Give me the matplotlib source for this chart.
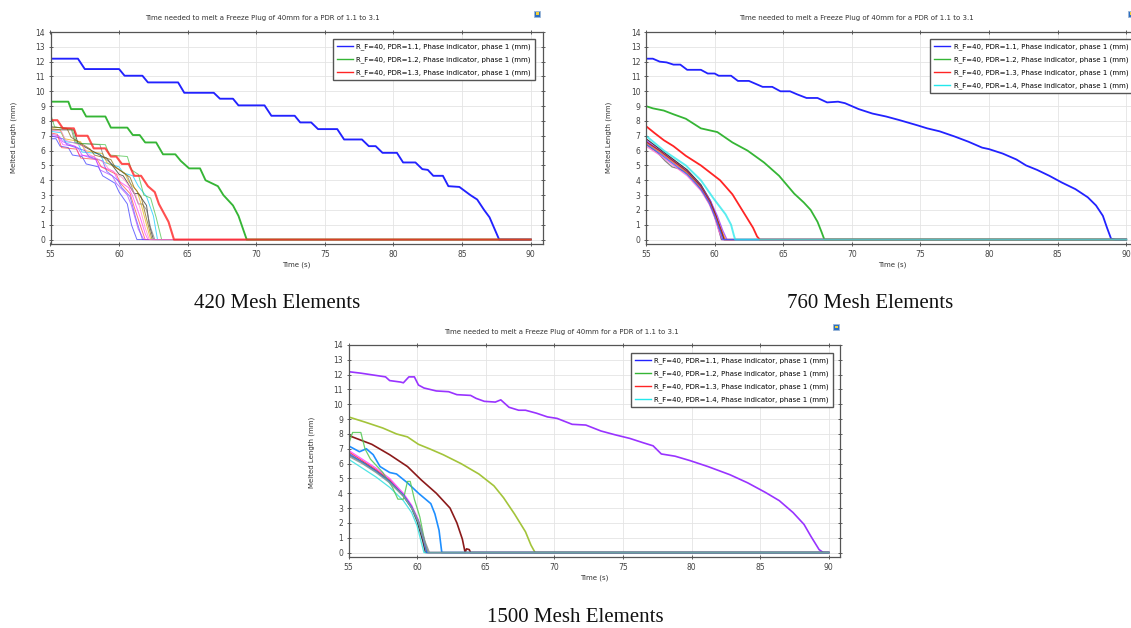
import matplotlib
matplotlib.use('Agg')
import matplotlib.pyplot as plt
from matplotlib.lines import Line2D
from matplotlib.patches import Rectangle

W, H = 1131, 628

title = 'Time needed to melt a Freeze Plug of 40mm for a PDR of 1.1 to 3.1'
legend_labels = ['R_F=40, PDR=1.1, Phase indicator, phase 1 (mm)',
                 'R_F=40, PDR=1.2, Phase indicator, phase 1 (mm)',
                 'R_F=40, PDR=1.3, Phase indicator, phase 1 (mm)',
                 'R_F=40, PDR=1.4, Phase indicator, phase 1 (mm)']
legend_colors = ['#2222ff', '#35b535', '#ff2424', '#22e8ec']
captions = ['420 Mesh Elements', '760 Mesh Elements', '1500 Mesh Elements']
x_ticks = [55, 60, 65, 70, 75, 80, 85, 90]
y_ticks = list(range(0, 15))

# ---- 420 mesh elements (stair-steppy) ----
m420_pdr11_t = [55, 57.0, 57.5, 60.0, 60.4, 61.7, 62.1, 64.3, 64.75, 66.9, 67.35, 68.3, 68.7, 70.6, 71.1,
                72.8, 73.2, 74.0, 74.5, 75.9, 76.4, 77.7, 78.2, 78.7, 79.2, 80.25, 80.7, 81.6, 82.1, 82.5,
                82.9, 83.6, 84.0, 84.8, 85.6, 86.1, 86.6, 87.0, 87.7, 90]
m420_pdr11_y = [12.2, 12.2, 11.5, 11.5, 11.05, 11.05, 10.6, 10.6, 9.9, 9.9, 9.5, 9.5, 9.05, 9.05, 8.35,
                8.35, 7.9, 7.9, 7.45, 7.45, 6.75, 6.75, 6.3, 6.3, 5.85, 5.85, 5.2, 5.2, 4.75, 4.7,
                4.3, 4.3, 3.6, 3.55, 3.0, 2.7, 2.0, 1.5, 0, 0]
m420_pdr12_t = [55, 56.3, 56.5, 57.3, 57.6, 59.0, 59.4, 60.6, 61.0, 61.5, 61.9, 62.7, 63.2, 64.1, 64.5,
                65.1, 65.9, 66.3, 67.2, 67.6, 68.3, 68.7, 69.3, 90]
m420_pdr12_y = [9.3, 9.3, 8.8, 8.8, 8.3, 8.3, 7.55, 7.55, 7.05, 7.05, 6.55, 6.55, 5.75, 5.75, 5.3,
                4.8, 4.8, 4.0, 3.6, 3.0, 2.3, 1.6, 0, 0]
m420_pdr13_t = [55, 55.5, 55.9, 56.7, 56.9, 57.7, 58.15, 59.0, 59.4, 59.8, 60.2, 60.7, 61.1, 61.6, 62.1,
                62.6, 62.9, 63.6, 64.0, 90]
m420_pdr13_y = [8.05, 8.05, 7.5, 7.5, 7.0, 7.0, 6.15, 6.15, 5.6, 5.6, 5.1, 5.1, 4.3, 4.3, 3.6,
                3.2, 2.4, 1.2, 0, 0]
m420_fine_colors = ['#00c8ff', '#ff30ff', '#e8b000', '#202020', '#707070', '#3030ff',
                    '#5050ff', '#40c040', '#ff4040', '#806000', '#b040ff', '#ff80c0']
m420_fine_t = [
    [55, 55.8, 56.1, 57.0, 57.3, 58.6, 58.9, 60.0, 60.3, 61.0, 61.4, 62.0, 62.5, 62.8, 90],
    [55, 55.6, 55.9, 56.8, 57.1, 58.2, 58.5, 59.6, 59.9, 60.7, 61.0, 61.5, 61.9, 62.1, 90],
    [55, 55.7, 56.0, 57.2, 57.5, 58.8, 59.1, 60.4, 60.7, 61.3, 61.6, 62.0, 62.3, 90],
    [55, 56.7, 57.0, 58.8, 59.1, 60.0, 60.3, 61.1, 61.4, 62.0, 62.2, 62.5, 90],
    [55, 56.5, 56.8, 58.6, 58.9, 60.6, 60.9, 61.4, 61.7, 62.0, 62.3, 62.6, 90],
    [55, 55.4, 55.7, 56.3, 56.6, 57.3, 57.6, 58.5, 58.8, 59.7, 60.0, 60.6, 60.9, 61.3, 90],
    [55, 55.9, 56.2, 57.5, 57.8, 58.8, 59.1, 59.9, 60.2, 60.8, 61.2, 61.7, 90],
    [55, 55.3, 56.6, 56.9, 59.0, 59.3, 60.6, 60.9, 61.4, 61.8, 62.3, 62.7, 63.1, 90],
    [55, 55.5, 55.8, 56.9, 57.2, 58.4, 58.7, 59.8, 60.1, 60.8, 61.1, 61.6, 61.9, 90],
    [55, 56.2, 56.5, 57.9, 58.2, 59.4, 59.7, 60.8, 61.1, 61.6, 62.0, 62.4, 90],
    [55, 55.6, 55.9, 57.0, 57.3, 58.3, 58.6, 59.5, 59.8, 60.6, 60.9, 61.4, 61.8, 90],
    [55, 55.8, 56.1, 57.4, 57.7, 58.9, 59.2, 60.2, 60.5, 61.2, 61.5, 61.9, 62.2, 90],
]
m420_fine_y = [
    [7.3, 7.2, 6.6, 6.5, 5.9, 5.8, 5.2, 4.9, 4.5, 4.3, 3.6, 2.9, 1.6, 0, 0],
    [7.0, 6.9, 6.4, 6.3, 5.7, 5.6, 5.0, 4.6, 4.0, 3.5, 2.9, 1.6, 0.4, 0, 0],
    [7.5, 7.4, 6.8, 6.6, 6.0, 5.8, 5.2, 4.5, 3.9, 3.3, 2.4, 1.0, 0, 0],
    [7.4, 7.4, 6.5, 5.6, 5.5, 4.4, 4.3, 3.1, 3.1, 2.3, 1.0, 0, 0],
    [7.6, 7.5, 6.5, 6.4, 5.5, 4.3, 3.6, 2.4, 2.4, 2.0, 0.8, 0, 0],
    [6.8, 6.8, 6.3, 6.2, 5.7, 5.6, 5.1, 4.9, 4.3, 3.8, 3.2, 2.4, 1.0, 0, 0],
    [7.0, 6.8, 6.4, 6.0, 5.6, 5.3, 4.6, 4.0, 3.5, 2.9, 1.5, 0, 0],
    [8.5, 7.6, 7.4, 6.5, 6.4, 5.7, 5.6, 4.7, 4.4, 3.0, 2.8, 1.5, 0, 0],
    [7.2, 7.1, 6.2, 6.1, 5.5, 5.4, 4.9, 4.4, 3.8, 3.1, 2.2, 0.8, 0, 0],
    [7.6, 7.5, 6.9, 6.1, 5.7, 5.4, 4.9, 4.2, 3.5, 2.9, 1.4, 0, 0],
    [7.1, 7.0, 6.6, 6.2, 5.7, 5.4, 4.7, 4.3, 3.8, 3.0, 2.3, 0.7, 0, 0],
    [7.4, 7.3, 6.7, 6.3, 5.8, 5.2, 4.8, 4.2, 3.9, 3.0, 2.2, 0.8, 0, 0],
]

# ---- 760 mesh elements ----
m760_pdr11_t = [55, 55.5, 56.0, 56.5, 57.0, 57.5, 58.0, 59.0, 59.5, 60.0, 60.3, 61.2, 61.7, 62.5, 63.0,
                63.5, 64.2, 64.8, 65.5, 66.0, 66.7, 67.5, 68.2, 69.0, 69.5, 70.5, 71.5, 72.5, 73.5, 74.8,
                75.5, 76.4, 77.5, 78.5, 79.5, 80.0, 81.0, 82.0, 82.7, 83.5, 84.4, 85.3, 86.3, 87.2, 87.8,
                88.3, 88.6, 88.9, 89.2, 90]
m760_pdr11_y = [12.2, 12.2, 12.0, 11.95, 11.8, 11.8, 11.45, 11.45, 11.2, 11.2, 11.05, 11.05, 10.7, 10.7, 10.5,
                10.3, 10.3, 10.0, 10.0, 9.8, 9.55, 9.55, 9.25, 9.3, 9.2, 8.8, 8.5, 8.3, 8.05, 7.7,
                7.5, 7.3, 6.95, 6.6, 6.2, 6.1, 5.8, 5.4, 5.0, 4.7, 4.3, 3.85, 3.4, 2.85, 2.3,
                1.6, 0.8, 0.05, 0, 0]
m760_pdr12_t = [55, 55.5, 56.3, 57.0, 57.9, 59.0, 60.2, 61.3, 62.4, 63.6, 64.7, 65.8, 66.5, 67.0, 67.5,
                67.8, 68.0, 90]
m760_pdr12_y = [9.0, 8.85, 8.7, 8.45, 8.15, 7.5, 7.25, 6.55, 6.0, 5.2, 4.3, 3.1, 2.5, 2.0, 1.2,
                0.5, 0, 0]
m760_pdr13_t = [55, 55.6, 56.3, 57.0, 57.9, 59.0, 60.4, 61.3, 62.2, 62.8, 63.1, 63.3, 90]
m760_pdr13_y = [7.65, 7.2, 6.7, 6.3, 5.65, 5.0, 4.0, 3.05, 1.7, 0.8, 0.2, 0, 0]
m760_pdr14_t = [55, 56.3, 57.9, 59.0, 59.9, 60.8, 61.2, 61.4, 61.5, 90]
m760_pdr14_y = [7.0, 6.0, 5.0, 4.0, 2.8, 1.7, 1.0, 0.3, 0, 0]
m760_fine_colors = ['#ff30ff', '#707070', '#202020', '#ff9900', '#a040ff', '#ff70d0', '#a02020', '#4060ff']
m760_fine_t = [
    [55, 56, 57, 58, 59, 59.6, 60.0, 60.3, 60.5, 90],
    [55, 55.8, 56.4, 56.9, 57.3, 57.8, 58.5, 59.2, 59.8, 60.2, 60.5, 90],
    [55, 56, 57, 58, 59, 59.7, 60.1, 60.4, 60.7, 90],
    [55, 56, 57, 58, 59, 59.6, 60.1, 60.5, 60.8, 90],
    [55, 56, 57, 58, 59, 59.7, 60.2, 60.6, 60.9, 90],
    [55, 56, 57, 58, 59, 59.6, 60.0, 60.3, 60.6, 90],
    [55, 56, 57, 58, 59, 59.7, 60.1, 60.5, 60.7, 90],
    [55, 56, 57, 58, 59, 59.6, 60.0, 60.4, 60.6, 90],
]
m760_fine_y = [
    [6.6, 5.9, 5.2, 4.5, 3.5, 2.5, 1.6, 0.7, 0, 0],
    [6.4, 5.9, 5.3, 4.9, 4.8, 4.6, 4.0, 3.1, 2.1, 1.0, 0, 0],
    [6.8, 6.1, 5.4, 4.7, 3.7, 2.6, 1.6, 0.7, 0, 0],
    [6.5, 5.9, 5.2, 4.5, 3.5, 2.6, 1.5, 0.6, 0, 0],
    [6.7, 6.0, 5.3, 4.6, 3.6, 2.6, 1.6, 0.6, 0, 0],
    [6.3, 5.7, 5.0, 4.3, 3.3, 2.4, 1.5, 0.6, 0, 0],
    [6.6, 6.0, 5.3, 4.6, 3.6, 2.5, 1.6, 0.6, 0, 0],
    [6.45, 5.8, 5.1, 4.4, 3.4, 2.5, 1.6, 0.6, 0, 0],
]

# ---- 1500 mesh elements ----
m1500_pdr11_t = [55, 55.9, 57.7, 58.0, 58.8, 59.0, 59.4, 59.8, 60.1, 60.5, 61.4, 62.3, 62.9, 63.9, 64.3,
                 64.9, 65.7, 66.1, 66.7, 67.4, 67.9, 68.7, 69.5, 70.2, 71.3, 72.3, 73.4, 74.4, 75.5, 76.5,
                 77.2, 77.8, 78.8, 79.9, 81.2, 82.8, 84.1, 85.4, 86.4, 87.4, 88.2, 88.7, 89.3, 89.6, 90]
m1500_pdr11_y = [12.2, 12.1, 11.85, 11.6, 11.5, 11.45, 11.85, 11.85, 11.3, 11.1, 10.9, 10.85, 10.65, 10.6, 10.4,
                 10.2, 10.15, 10.3, 9.8, 9.6, 9.6, 9.4, 9.15, 9.05, 8.65, 8.6, 8.2, 7.95, 7.7, 7.4,
                 7.2, 6.65, 6.5, 6.2, 5.8, 5.25, 4.7, 4.05, 3.5, 2.7, 1.9, 1.1, 0.2, 0, 0]
m1500_pdr12_t = [55, 56.2, 57.5, 58.5, 59.3, 60.1, 60.9, 61.9, 63.2, 64.5, 65.6, 66.3, 67.1, 67.9, 68.3,
                 68.6, 90]
m1500_pdr12_y = [9.15, 8.8, 8.4, 8.0, 7.8, 7.3, 7.0, 6.6, 6.0, 5.3, 4.5, 3.7, 2.6, 1.4, 0.5,
                 0, 0]
m1500_pdr13_t = [55, 56.7, 58.0, 59.3, 60.3, 61.4, 62.4, 62.9, 63.3, 63.5, 63.6, 63.8, 63.9, 90]
m1500_pdr13_y = [7.9, 7.3, 6.6, 5.8, 4.9, 4.0, 3.0, 2.0, 0.9, 0, 0.25, 0.2, 0, 0]
m1500_pdr14_t = [55, 55.8, 56.3, 56.8, 57.3, 58.0, 58.5, 59.3, 60.1, 61.0, 61.3, 61.6, 61.8, 90]
m1500_pdr14_y = [7.2, 6.8, 7.0, 6.6, 5.8, 5.4, 5.3, 4.7, 4.0, 3.3, 2.6, 1.5, 0, 0]
m1500_fine_colors = ['#ff3030', '#ff40ff', '#202020', '#30e0e0', '#50c850', '#3050ff', '#909090', '#6aa6a6']
m1500_fine_t = [
    [55, 56, 57, 58, 59, 59.6, 60.1, 60.5, 60.8, 90],
    [55, 56, 57, 58, 59, 59.6, 60.1, 60.4, 60.7, 90],
    [55, 56, 57, 58, 59, 59.6, 60.0, 60.4, 60.6, 90],
    [55, 56, 57, 58, 59, 59.6, 60.0, 60.3, 60.5, 90],
    [55, 55.3, 55.9, 56.2, 56.6, 57.5, 58.2, 58.6, 59.0, 59.3, 59.5, 59.8, 60.2, 60.5, 60.7, 90],
    [55, 56, 57, 58, 59, 59.6, 60.1, 60.5, 60.7, 90],
    [55, 56, 57, 58, 59, 59.7, 60.2, 60.6, 60.9, 90],
    [55, 56, 57, 58, 59, 59.6, 60.1, 60.5, 60.8, 90],
]
m1500_fine_y = [
    [6.8, 6.2, 5.6, 4.9, 3.9, 3.1, 2.1, 0.9, 0, 0],
    [6.9, 6.3, 5.7, 5.0, 4.0, 3.2, 2.2, 1.0, 0, 0],
    [6.6, 6.1, 5.5, 4.8, 3.8, 3.0, 2.1, 0.8, 0, 0],
    [6.3, 5.7, 5.1, 4.4, 3.5, 2.7, 1.8, 0.7, 0, 0],
    [7.3, 8.1, 8.1, 7.0, 6.3, 5.4, 4.4, 3.6, 3.6, 4.8, 4.8, 3.6, 2.4, 1.0, 0, 0],
    [6.7, 6.1, 5.5, 4.8, 3.9, 3.1, 2.1, 0.9, 0, 0],
    [6.5, 6.0, 5.4, 4.7, 3.8, 2.9, 1.9, 0.7, 0, 0],
    [6.6, 6.05, 5.45, 4.75, 3.85, 3.0, 2.0, 0.8, 0, 0],
]
m1500_main_colors = ['#9933ff', '#a3c43a', '#8b1a1a', '#1e8fff']


def fx(px):
    return px / W


def fy(py):
    return 1 - py / H


fig = plt.figure(figsize=(W / 100, H / 100), dpi=100)
plt.rcParams['font.family'] = 'DejaVu Sans'


def make_axes(left, right, top, bottom):
    ax = fig.add_axes([fx(left), fy(bottom), (right - left) / W, (bottom - top) / H])
    ax.set_xlim(55, 55 + (right - left) / 13.72)
    ax.set_ylim(-0.3, 14)
    ax.set_xticks(x_ticks)
    ax.set_yticks(y_ticks)
    ax.grid(True, color='#e4e4e4', lw=0.6)
    ax.set_axisbelow(True)
    ax.tick_params(labelsize=5.5, colors='#444444', direction='inout', length=3, width=0.6,
                   top=True, right=True, pad=2.5)
    for s in ax.spines.values():
        s.set_color('#555555')
        s.set_linewidth(0.9)
    return ax


def add_legend(ax, n, xr, yt):
    handles = [Line2D([0], [0], color=legend_colors[i], lw=1.0) for i in range(n)]
    leg = ax.legend(handles, legend_labels[:n], loc='upper right', bbox_to_anchor=(xr, yt),
                    fontsize=5, fancybox=False, framealpha=1, edgecolor='#555555',
                    handlelength=2.3, handletextpad=0.5, labelspacing=0.9, borderpad=0.6,
                    borderaxespad=0)
    leg.get_frame().set_linewidth(1.0)


def decorate(cx_title, y_title, ylab_x, ylab_y, cap_x, cap_y, cap):
    fig.text(fx(cx_title), fy(y_title), title, fontsize=5, color='#333333', ha='center', va='center')
    fig.text(fx(ylab_x), fy(ylab_y), 'Melted Length (mm)', fontsize=5, color='#333333',
             rotation=90, ha='center', va='center')
    fig.text(fx(cap_x), fy(cap_y), cap, fontsize=15, family='Liberation Serif',
             ha='center', va='center', color='#111111')


def icon(px, py):
    fig.add_artist(Rectangle((fx(px - 3), fy(py + 3)), 6 / W, 6 / H, transform=fig.transFigure,
                             facecolor='#2d6fc0', edgecolor='#9bb7d8', lw=0.6))
    fig.add_artist(Rectangle((fx(px - 1), fy(py + 1)), 2.5 / W, 2.5 / H, transform=fig.transFigure,
                             facecolor='#f3d23a', edgecolor='none'))


# panel 1: 420
ax1 = make_axes(50.5, 543, 32, 244)
for t, y, c in zip(m420_fine_t, m420_fine_y, m420_fine_colors):
    ax1.plot(t, y, color=c, lw=0.7, alpha=0.7)
ax1.plot(m420_pdr11_t, m420_pdr11_y, color=legend_colors[0], lw=1.35)
ax1.plot(m420_pdr12_t, m420_pdr12_y, color=legend_colors[1], lw=1.35)
ax1.plot(m420_pdr13_t, m420_pdr13_y, color=legend_colors[2], lw=1.5, alpha=0.8)
ax1.set_xlabel('Time (s)', fontsize=5, color='#333333', labelpad=2)
add_legend(ax1, 3, 0.984, 0.967)
decorate(262, 18, 14, 137, 277, 303, captions[0])
icon(537, 14)

# panel 2: 760
ax2 = make_axes(646, 1138.5, 32, 244)
for t, y, c in zip(m760_fine_t, m760_fine_y, m760_fine_colors):
    ax2.plot(t, y, color=c, lw=0.9, alpha=0.85)
ax2.plot(m760_pdr11_t, m760_pdr11_y, color=legend_colors[0], lw=1.3)
ax2.plot(m760_pdr12_t, m760_pdr12_y, color=legend_colors[1], lw=1.3)
ax2.plot(m760_pdr13_t, m760_pdr13_y, color=legend_colors[2], lw=1.3)
ax2.plot(m760_pdr14_t, m760_pdr14_y, color=legend_colors[3], lw=1.4, alpha=0.75)
ax2.set_xlabel('Time (s)', fontsize=5, color='#333333', labelpad=2)
add_legend(ax2, 4, 0.988, 0.967)
decorate(856, 18, 609, 137, 870, 303, captions[1])
icon(1131, 14)

# panel 3: 1500
ax3 = make_axes(348.5, 840, 345, 557)
main_t = [m1500_pdr11_t, m1500_pdr12_t, m1500_pdr13_t, m1500_pdr14_t]
main_y = [m1500_pdr11_y, m1500_pdr12_y, m1500_pdr13_y, m1500_pdr14_y]
for t, y, c in zip(main_t, main_y, m1500_main_colors):
    ax3.plot(t, y, color=c, lw=1.2)
for t, y, c in zip(m1500_fine_t, m1500_fine_y, m1500_fine_colors):
    ax3.plot(t, y, color=c, lw=0.9, alpha=0.85)
ax3.set_xlabel('Time (s)', fontsize=5, color='#333333', labelpad=2)
add_legend(ax3, 4, 0.986, 0.962)
decorate(561, 332, 312, 452, 575, 617, captions[2])
icon(836, 327)

fig.savefig('out.png', dpi=100)
